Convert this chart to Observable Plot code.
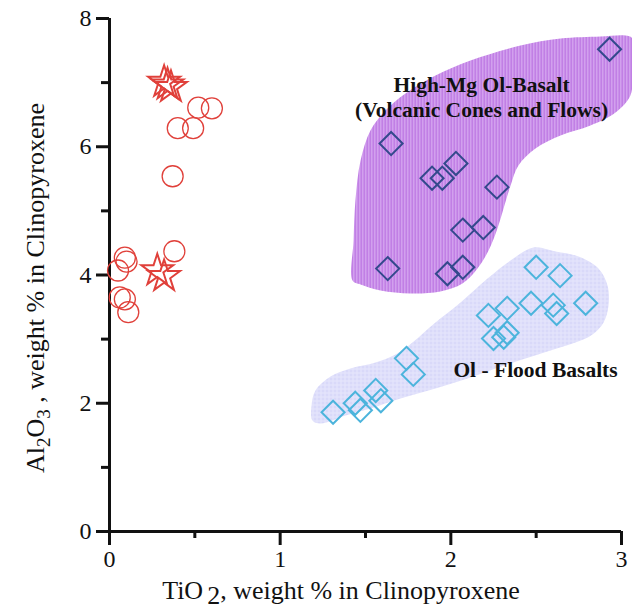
<!DOCTYPE html>
<html>
<head>
<meta charset="utf-8">
<script src="https://cdn.jsdelivr.net/npm/d3@7"></script>
<script src="https://cdn.jsdelivr.net/npm/@observablehq/plot@0.6"></script>
<style>
  html, body { margin: 0; padding: 0; background: #fff; }
  svg text { font-family: "Liberation Serif", "Times New Roman", serif !important; }
</style>
</head>
<body>
<div id="chart"></div>
<script>
// ---- Data ----
const xTicks = [0, 1, 2, 3];
const xMinorTicks = [0.5, 1.5, 2.5];
const yTicks = [0, 2, 4, 6, 8];
const yMinorTicks = [1, 3, 5, 7];

// Red circles
const circleTi = [0.60, 0.52, 0.40, 0.49, 0.37, 0.38, 0.09, 0.10, 0.05, 0.06, 0.09, 0.11];
const circleAl = [6.60, 6.61, 6.29, 6.29, 5.54, 4.37, 4.27, 4.21, 4.07, 3.65, 3.62, 3.42];

// Red stars
const starTi = [0.32, 0.34, 0.36, 0.28, 0.32];
const starAl = [7.01, 6.97, 6.93, 4.07, 3.98];

// High-Mg Ol-Basalt (dark blue diamonds)
const hiMgTi = [2.93, 1.65, 2.03, 1.89, 1.95, 2.27, 2.07, 2.19, 1.63, 1.98, 2.07];
const hiMgAl = [7.52, 6.05, 5.74, 5.51, 5.51, 5.37, 4.70, 4.74, 4.10, 4.02, 4.12];

// Ol - Flood Basalts (light blue diamonds)
const floodTi = [2.50, 2.64, 2.22, 2.33, 2.47, 2.60, 2.62, 2.79, 2.25, 2.31, 2.33, 1.74, 1.78, 1.31, 1.44, 1.47, 1.56, 1.59];
const floodAl = [4.12, 3.99, 3.37, 3.48, 3.56, 3.53, 3.40, 3.56, 3.01, 3.03, 3.10, 2.70, 2.45, 1.86, 2.00, 1.89, 2.20, 2.04];

// Field outlines
const hiMgFieldTi = [1.424, 1.430, 1.441, 1.471, 1.529, 1.617, 1.734, 1.910, 2.115, 2.408, 2.643, 2.877, 3.023, 3.064, 3.064, 3.052, 2.965, 2.818, 2.643, 2.496, 2.396, 2.350, 2.314, 2.273, 2.221, 2.156, 2.068, 1.939, 1.764, 1.588, 1.471];
const hiMgFieldAl = [3.914, 4.538, 5.162, 5.786, 6.253, 6.565, 6.830, 7.111, 7.345, 7.579, 7.688, 7.719, 7.735, 7.688, 7.189, 6.799, 6.534, 6.331, 6.175, 5.973, 5.708, 5.396, 5.084, 4.725, 4.382, 4.101, 3.867, 3.743, 3.712, 3.758, 3.852];

const floodFieldTi = [2.484, 2.613, 2.748, 2.865, 2.918, 2.924, 2.895, 2.830, 2.730, 2.584, 2.437, 2.262, 2.098, 1.910, 1.705, 1.529, 1.383, 1.236, 1.189, 1.184, 1.207, 1.295, 1.412, 1.559, 1.676, 1.775, 1.910, 2.057, 2.215, 2.350];
const floodFieldAl = [4.429, 4.366, 4.288, 4.101, 3.836, 3.524, 3.259, 3.072, 2.947, 2.823, 2.698, 2.542, 2.386, 2.230, 2.074, 1.918, 1.809, 1.684, 1.731, 1.965, 2.199, 2.417, 2.542, 2.635, 2.760, 2.947, 3.259, 3.571, 3.945, 4.226];

// Field labels
const labelText = ["High-Mg Ol-Basalt", "(Volcanic Cones and Flows)", "Ol - Flood Basalts"];
const labelTi = [2.18, 2.18, 2.015];
const labelAl = [6.955, 6.565, 2.51];

// ---- Build tables ----
const zip = (xs, ys) => xs.map((x, i) => ({x, y: ys[i]}));
const circles = zip(circleTi, circleAl);
const stars = zip(starTi, starAl);
const hiMg = zip(hiMgTi, hiMgAl);
const flood = zip(floodTi, floodAl);
const hiMgField = zip(hiMgFieldTi, hiMgFieldAl);
const floodField = zip(floodFieldTi, floodFieldAl);
const labelsTop = labelText.slice(0, 2).map((t, i) => ({t, x: labelTi[i], y: labelAl[i]}));
const labelsFlood = [{t: labelText[2], x: labelTi[2], y: labelAl[2]}];

const serif = "'Liberation Serif', 'Times New Roman', serif";
const ink = "#111";
const intFmt = d => String(d);

const svg = Plot.plot({
  width: 632,
  height: 611,
  marginLeft: 109,
  marginRight: 11,
  marginTop: 18,
  marginBottom: 80,
  x: {domain: [0, 3], label: null},
  y: {domain: [0, 8], label: null},
  style: {fontFamily: serif, fontSize: "24px", background: "#fff", color: ink},
  marks: [
    Plot.line(hiMgField, {x: "x", y: "y", curve: "catmull-rom-closed", fill: "url(#purpHatch)", stroke: "none"}),
    Plot.line(floodField, {x: "x", y: "y", curve: "catmull-rom-closed", fill: "url(#lavGrid)", stroke: "none"}),
    Plot.axisY({ticks: yTicks, tickSize: 13, tickPadding: 5, strokeWidth: 3, stroke: ink, fill: ink, fontSize: 24, tickFormat: intFmt}),
    Plot.axisY({ticks: yMinorTicks, tickSize: 8, strokeWidth: 3, stroke: ink, tickFormat: () => ""}),
    Plot.axisX({ticks: xTicks, tickSize: 14, tickPadding: 4, strokeWidth: 3, stroke: ink, fill: ink, fontSize: 24, tickFormat: intFmt}),
    Plot.axisX({ticks: xMinorTicks, tickSize: 7, strokeWidth: 3, stroke: ink, tickFormat: () => ""}),
    Plot.ruleX([0], {stroke: ink, strokeWidth: 3}),
    Plot.ruleY([0], {stroke: ink, strokeWidth: 3}),
    Plot.dot(circles, {x: "x", y: "y", r: 10.5, stroke: "#e0403a", strokeWidth: 1.3, fill: "none"}),
    Plot.dot(stars, {x: "x", y: "y", symbol: "star", r: 10, stroke: "#e0403a", strokeWidth: 2, fill: "none"}),
    Plot.dot(hiMg, {x: "x", y: "y", symbol: "diamond2", r: 10.4, stroke: "#33498c", strokeWidth: 2, fill: "none"}),
    Plot.dot(flood, {x: "x", y: "y", symbol: "diamond2", r: 10.4, stroke: "#4cb4dc", strokeWidth: 2, fill: "none"}),
    Plot.text(labelsTop, {x: "x", y: "y", text: "t", fontSize: 21.5, fontWeight: "bold", fill: ink, textAnchor: "middle"}),
    Plot.text(labelsFlood, {x: "x", y: "y", text: "t", fontSize: 21.5, fontWeight: "bold", fill: ink, textAnchor: "start"})
  ]
});

svg.insertAdjacentHTML("afterbegin", `
<defs>
  <pattern id="purpHatch" patternUnits="userSpaceOnUse" width="3" height="3">
    <rect width="3" height="3" fill="#dab0f2"></rect>
    <rect width="1.5" height="3" fill="#b86ee0"></rect>
  </pattern>
  <pattern id="lavGrid" patternUnits="userSpaceOnUse" width="4" height="4">
    <rect width="4" height="4" fill="#d9d9f9"></rect>
    <rect width="4" height="1" fill="#e6e6fc"></rect>
    <rect width="1" height="4" fill="#e6e6fc"></rect>
  </pattern>
</defs>`);

// Axis titles with subscripts
const s = d3.select(svg);
const xt = s.append("text")
  .attr("x", 341).attr("y", 599)
  .attr("text-anchor", "middle")
  .attr("font-family", serif).attr("font-size", 26).attr("fill", ink);
xt.append("tspan").text("TiO");
xt.append("tspan").attr("dx", 4).attr("dy", 5).text("2");
xt.append("tspan").attr("dy", -5).text(", weight % in Clinopyroxene");

const yt = s.append("text")
  .attr("transform", "translate(44,288) rotate(-90)")
  .attr("text-anchor", "middle")
  .attr("font-family", serif).attr("font-size", 26).attr("fill", ink);
yt.append("tspan").text("Al");
yt.append("tspan").attr("dy", 6).attr("font-size", 19).text("2");
yt.append("tspan").attr("dy", -6).text("O");
yt.append("tspan").attr("dy", 6).attr("font-size", 19).text("3");
yt.append("tspan").attr("dy", -6).text(" , weight % in Clinopyroxene");

document.getElementById("chart").appendChild(svg);
</script>
</body>
</html>
